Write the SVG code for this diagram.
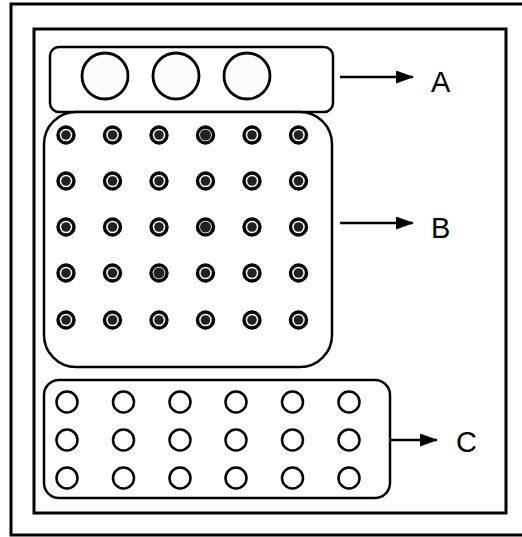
<svg xmlns="http://www.w3.org/2000/svg" width="522" height="537" viewBox="0 0 522 537">
<style>
.frame{fill:none;stroke:#000;stroke-width:3}
.box{fill:#fff;stroke:#000;stroke-width:2.5}
.ca{fill:#fbfbfb;stroke:#000;stroke-width:2.8}
.cb{fill:#fff;stroke:#000;stroke-width:3.4}
.cbi{fill:#222}
.cc{fill:#fff;stroke:#000;stroke-width:2.5}
.conn{stroke:#000;stroke-width:2.6;fill:none}
.lbl{font-family:"Liberation Sans",Arial,sans-serif;font-size:29px;fill:#000}
</style>
<defs>
<marker id="ah" viewBox="0 0 18 13" refX="17" refY="6.5" markerWidth="18" markerHeight="13" orient="auto" markerUnits="userSpaceOnUse">
<path d="M0,0 L18,6.5 L0,13 z" fill="#000"/>
</marker>
</defs>
<rect width="522" height="537" fill="#fff"/>
<rect class="frame" x="11" y="4" width="520" height="531"/>
<rect class="frame" x="34" y="29" width="472" height="484"/>
<g id="nodeA">
<rect class="box" x="50" y="47" width="283" height="65" rx="9"/>
<circle class="ca" cx="105" cy="76" r="23"/>
<circle class="ca" cx="176" cy="76" r="23"/>
<circle class="ca" cx="247" cy="76" r="23"/>
</g>
<g id="nodeB">
<rect class="box" x="44" y="112" width="288" height="255" rx="32"/>
<g id="b-cells">
<g transform="translate(66,135)"><circle class="cb" r="8"/><circle class="cbi" r="4.8"/></g>
<g transform="translate(112.5,135)"><circle class="cb" r="8"/><circle class="cbi" r="4.8"/></g>
<g transform="translate(159,135)"><circle class="cb" r="8"/><circle class="cbi" r="4.8"/></g>
<g transform="translate(205.5,135)"><circle class="cb" r="8"/><circle class="cbi" r="5.5"/></g>
<g transform="translate(252,135)"><circle class="cb" r="8"/><circle class="cbi" r="4.8"/></g>
<g transform="translate(298.5,135)"><circle class="cb" r="8"/><circle class="cbi" r="4.8"/></g>
<g transform="translate(66,181)"><circle class="cb" r="8"/><circle class="cbi" r="4.8"/></g>
<g transform="translate(112.5,181)"><circle class="cb" r="8"/><circle class="cbi" r="4.8"/></g>
<g transform="translate(159,181)"><circle class="cb" r="8"/><circle class="cbi" r="4.8"/></g>
<g transform="translate(205.5,181)"><circle class="cb" r="8"/><circle class="cbi" r="4.8"/></g>
<g transform="translate(252,181)"><circle class="cb" r="8"/><circle class="cbi" r="4.8"/></g>
<g transform="translate(298.5,181)"><circle class="cb" r="8"/><circle class="cbi" r="4.8"/></g>
<g transform="translate(66,227)"><circle class="cb" r="8"/><circle class="cbi" r="4.8"/></g>
<g transform="translate(112.5,227)"><circle class="cb" r="8"/><circle class="cbi" r="4.8"/></g>
<g transform="translate(159,227)"><circle class="cb" r="8"/><circle class="cbi" r="4.8"/></g>
<g transform="translate(205.5,227)"><circle class="cb" r="8"/><circle class="cbi" r="5.5"/></g>
<g transform="translate(252,227)"><circle class="cb" r="8"/><circle class="cbi" r="4.8"/></g>
<g transform="translate(298.5,227)"><circle class="cb" r="8"/><circle class="cbi" r="4.8"/></g>
<g transform="translate(66,273)"><circle class="cb" r="8"/><circle class="cbi" r="4.8"/></g>
<g transform="translate(112.5,273)"><circle class="cb" r="8"/><circle class="cbi" r="4.8"/></g>
<g transform="translate(159,273)"><circle class="cb" r="8"/><circle class="cbi" r="5.5"/></g>
<g transform="translate(205.5,273)"><circle class="cb" r="8"/><circle class="cbi" r="4.8"/></g>
<g transform="translate(252,273)"><circle class="cb" r="8"/><circle class="cbi" r="4.8"/></g>
<g transform="translate(298.5,273)"><circle class="cb" r="8"/><circle class="cbi" r="4.8"/></g>
<g transform="translate(66,320)"><circle class="cb" r="8"/><circle class="cbi" r="4.8"/></g>
<g transform="translate(112.5,320)"><circle class="cb" r="8"/><circle class="cbi" r="4.8"/></g>
<g transform="translate(159,320)"><circle class="cb" r="8"/><circle class="cbi" r="4.8"/></g>
<g transform="translate(205.5,320)"><circle class="cb" r="8"/><circle class="cbi" r="4.8"/></g>
<g transform="translate(252,320)"><circle class="cb" r="8"/><circle class="cbi" r="4.8"/></g>
<g transform="translate(298.5,320)"><circle class="cb" r="8"/><circle class="cbi" r="4.8"/></g>
</g>
</g>
<g id="nodeC">
<rect class="box" x="44" y="380" width="346" height="118" rx="15"/>
<g id="c-cells">
<circle class="cc" cx="67" cy="402" r="10.5"/><circle class="cc" cx="123.5" cy="402" r="10.5"/><circle class="cc" cx="180" cy="402" r="10.5"/><circle class="cc" cx="236" cy="402" r="10.5"/><circle class="cc" cx="292.5" cy="402" r="10.5"/><circle class="cc" cx="349" cy="402" r="10.5"/>
<circle class="cc" cx="67" cy="440" r="10.5"/><circle class="cc" cx="123.5" cy="440" r="10.5"/><circle class="cc" cx="180" cy="440" r="10.5"/><circle class="cc" cx="236" cy="440" r="10.5"/><circle class="cc" cx="292.5" cy="440" r="10.5"/><circle class="cc" cx="349" cy="440" r="10.5"/>
<circle class="cc" cx="67" cy="478" r="10.5"/><circle class="cc" cx="123.5" cy="478" r="10.5"/><circle class="cc" cx="180" cy="478" r="10.5"/><circle class="cc" cx="236" cy="478" r="10.5"/><circle class="cc" cx="292.5" cy="478" r="10.5"/><circle class="cc" cx="349" cy="478" r="10.5"/>
</g>
</g>
<g id="connectors">
<line class="conn" x1="340" y1="77" x2="413" y2="77" marker-end="url(#ah)"/>
<line class="conn" x1="340" y1="223" x2="413" y2="223" marker-end="url(#ah)"/>
<line class="conn" x1="391" y1="440" x2="437" y2="440" marker-end="url(#ah)"/>
</g>
<g id="labels">
<text class="lbl" x="431" y="92">A</text>
<text class="lbl" x="431" y="238">B</text>
<text class="lbl" x="456" y="452">C</text>
</g>
</svg>
